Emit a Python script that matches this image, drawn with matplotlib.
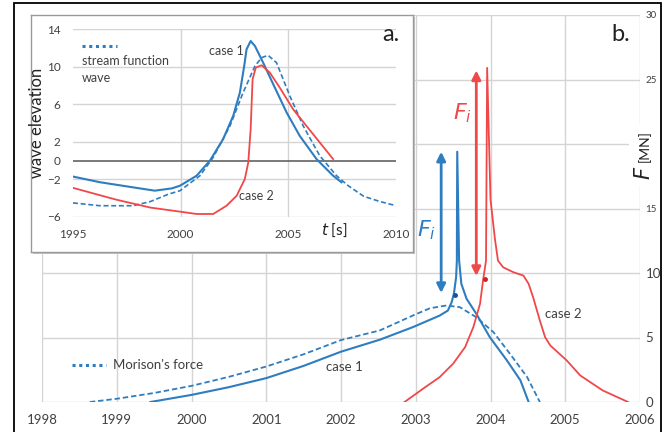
import numpy as np
import matplotlib.pyplot as plt
from matplotlib.patches import Rectangle

plt.rcParams['font.family'] = ['Lato', 'DejaVu Sans']

BLUE = '#2E7DC0'
RED = '#F04848'
GRID = '#d4d4d4'
TXT = '#404040'

# %% DATA - main panel (b.), force in MN
c1_t = [1999.45, 2000.0, 2000.5, 2001.0, 2001.5, 2002.0, 2002.52, 2002.96, 2003.32, 2003.43,
        2003.48, 2003.51, 2003.54, 2003.55, 2003.555, 2003.58, 2003.61, 2003.68, 2003.81, 2003.99,
        2004.22, 2004.40, 2004.51]
c1_f = [0.0, 0.55, 1.15, 1.85, 2.8, 3.9, 4.83, 5.8, 6.7, 7.09,
        7.73, 8.38, 9.67, 10.96, 19.4, 10.96, 9.16, 8.0, 6.84, 5.03,
        3.22, 1.68, 0.0]

mor_t = [1998.64, 1999.0, 1999.5, 2000.0, 2000.5, 2001.0, 2001.5, 2002.0, 2002.52, 2002.96,
         2003.19, 2003.41, 2003.59, 2003.81, 2004.04, 2004.26, 2004.49, 2004.66]
mor_f = [0.0, 0.25, 0.7, 1.25, 1.95, 2.75, 3.7, 4.8, 5.55, 6.7,
         7.27, 7.48, 7.35, 6.57, 5.41, 3.74, 1.93, 0.0]

c2_t = [2002.85, 2003.1, 2003.32, 2003.5, 2003.66, 2003.77, 2003.86, 2003.9, 2003.94, 2003.955,
        2004.0, 2004.06, 2004.1, 2004.17, 2004.31, 2004.44, 2004.51, 2004.57, 2004.66, 2004.73,
        2004.8, 2005.02, 2005.2, 2005.5, 2005.84]
c2_f = [0.0, 1.04, 1.93, 2.97, 4.25, 5.8, 7.61, 9.41, 10.96, 25.9,
        15.7, 12.6, 10.96, 10.44, 10.05, 9.8, 9.16, 8.12, 6.32, 5.03,
        4.38, 3.22, 2.06, 0.9, 0.0]

# small markers on the curves
dot_t = [2003.52, 2003.93]
dot_f = [8.3, 9.54]

# impulse force arrows (x, bottom, top)
fi_blue = (2003.34, 8.45, 19.4)
fi_red = (2003.81, 9.77, 25.7)

main_xticks = [1998, 1999, 2000, 2001, 2002, 2003, 2004, 2005, 2006]
main_yticks = [0, 5, 10, 15, 20, 25, 30]
main_ylabels = ['0', '5', '10', '15', '', '25', '30']

# %% DATA - inset (a.), wave elevation
w1_t = [1995.0, 1996.25, 1997.8, 1998.8, 1999.6, 1999.97, 2000.74, 2001.36, 2001.97, 2002.44,
        2002.75, 2002.95, 2003.06, 2003.25, 2003.45, 2003.83, 2004.3, 2004.92, 2005.53, 2006.31,
        2007.08, 2007.47]
w1_v = [-1.7, -2.3, -2.85, -3.2, -2.95, -2.67, -1.61, 0.0, 2.28, 4.76,
        7.24, 10.06, 11.84, 12.72, 12.19, 10.42, 8.12, 5.12, 2.63, 0.16,
        -1.61, -2.31]

sf_t = [1995.0, 1996.25, 1997.8, 1998.6, 1999.4, 1999.97, 2000.9, 2001.51, 2002.29, 2002.9,
        2003.45, 2003.76, 2004.06, 2004.45, 2005.07, 2005.69, 2006.46, 2007.24, 2007.78, 2008.5,
        2009.25, 2010.0]
sf_v = [-4.5, -4.8, -4.8, -4.35, -3.6, -3.2, -1.6, 0.34, 3.69, 7.24,
        10.06, 10.95, 11.2, 10.42, 6.88, 3.69, 0.51, -1.61, -2.67, -3.8,
        -4.35, -4.8]

w2_t = [1995.0, 1997.0, 1998.6, 1999.97, 2000.74, 2001.51, 2002.13, 2002.6, 2002.98, 2003.14,
        2003.25, 2003.34, 2003.49, 2003.76, 2004.14, 2004.6, 2005.22, 2005.84, 2006.46, 2007.08]
w2_v = [-2.9, -4.15, -5.0, -5.43, -5.68, -5.68, -4.8, -3.74, -1.96, -0.19,
        3.34, 8.65, 9.9, 10.14, 9.36, 7.77, 5.47, 3.69, 1.93, 0.16]

inset_xticks = [1995, 2000, 2005, 2010]
inset_yticks = [-6, -2, 0, 2, 6, 10, 14]
inset_ygrid = [-6, -2, 2, 6, 10, 14]

# %% FIGURE
W, H = 667, 432
fig = plt.figure(figsize=(W / 100, H / 100), dpi=100)


def fx(px):
    return px / W


def fy(py):
    return 1 - py / H


# outer black frame
fig.patches.append(Rectangle((fx(14), -0.02), fx(661) - fx(14), fy(3) + 0.02,
                             transform=fig.transFigure, fill=False, ec='black', lw=1.3))

# %% MAIN AXES
ax = fig.add_axes([fx(42), fy(402), fx(640) - fx(42), fy(15) - fy(402)])
ax.set_xlim(1998, 2006)
ax.set_ylim(0, 30)
for s in ax.spines.values():
    s.set_visible(False)
ax.set_xticks(main_xticks)
ax.set_xticklabels([str(t) for t in main_xticks])
ax.yaxis.tick_right()
ax.set_yticks(main_yticks)
ax.set_yticklabels(main_ylabels)
for lab, v in zip(ax.get_yticklabels(), main_yticks):
    lab.set_fontsize(9.5 if v <= 10 else 7)
ax.tick_params(axis='x', length=0, pad=9, labelsize=9.5, labelcolor=TXT)
ax.tick_params(axis='y', length=0, pad=4, labelcolor=TXT)
ax.grid(True, color=GRID, lw=1)
ax.set_axisbelow(True)

ax.plot(mor_t, mor_f, color=BLUE, lw=1.3, ls=(0, (3, 1.6)))
ax.plot(c1_t, c1_f, color=BLUE, lw=1.5)
ax.plot(c2_t, c2_f, color=RED, lw=1.3)
ax.plot(dot_t[:1], dot_f[:1], 'o', ms=2.5, color='#1f4f9a')
ax.plot(dot_t[1:], dot_f[1:], 'o', ms=2.5, color='#d02020')

for (x, lo, hi), col in [(fi_blue, BLUE), (fi_red, RED)]:
    ax.annotate('', xy=(x, hi), xytext=(x, lo),
                arrowprops=dict(arrowstyle='<|-|>', color=col, lw=2,
                                mutation_scale=13, shrinkA=0, shrinkB=0))

ax.text(2003.15, 13.3, r'$F_i$', color=BLUE, fontsize=16, ha='center', va='center')
ax.text(2003.63, 22.4, r'$F_i$', color=RED, fontsize=16, ha='center', va='center')
ax.text(2002.05, 2.75, 'case 1', color=TXT, fontsize=9.5, ha='center', va='center')
ax.text(2004.97, 6.8, 'case 2', color=TXT, fontsize=9.5, ha='center', va='center')

# legend sample
ax.plot([1998.4, 1998.85], [2.9, 2.9], color=BLUE, lw=2.2, ls=(0, (1, 1.2)))
ax.text(1998.95, 2.9, "Morison's force", color=TXT, fontsize=9.5, va='center')

ax.text(2005.87, 28.5, 'b.', fontsize=17, color='#222222', ha='right', va='center')

# F [MN] label with white background hiding the grid
fig.patches.append(Rectangle((fx(629), fy(186)), fx(659) - fx(629), fy(124) - fy(186),
                             transform=fig.transFigure, fc='white', ec='none', zorder=5))
fig.text(fx(644), fy(173), r'$F$', fontsize=15, rotation=90, ha='center', va='center',
         color='#222222', zorder=6)
fig.text(fx(644), fy(146), '[MN]', fontsize=10, rotation=90, ha='center', va='center',
         color='#222222', zorder=6)

# %% INSET BOX
shadow = fig.add_axes([fx(33), fy(254), fx(413) - fx(31), fy(15) - fy(252)])
shadow.set_facecolor('#c4c4c4')
shadow.set_xticks([])
shadow.set_yticks([])
for s in shadow.spines.values():
    s.set_visible(False)
box = fig.add_axes([fx(31), fy(252), fx(413) - fx(31), fy(15) - fy(252)])
box.set_facecolor('white')
box.set_xticks([])
box.set_yticks([])
for s in box.spines.values():
    s.set_color('#9a9a9a')
    s.set_linewidth(1)

# %% INSET AXES
ia = fig.add_axes([fx(73), fy(217), fx(396) - fx(73), fy(29) - fy(217)])
ia.set_facecolor('none')
ia.set_xlim(1995, 2010)
ia.set_ylim(-6, 14)
for s in ia.spines.values():
    s.set_visible(False)
ia.set_xticks(inset_xticks)
ia.set_yticks(inset_yticks)
ia.tick_params(length=0, labelsize=8.5, labelcolor=TXT)
ia.tick_params(axis='x', pad=9)
ia.tick_params(axis='y', pad=9)
ia.grid(False)
for v in inset_ygrid:
    ia.axhline(v, color=GRID, lw=1, zorder=0)
for t in inset_xticks[1:-1]:
    ia.axvline(t, color=GRID, lw=1, zorder=0)
ia.axhline(0, color='#555555', lw=1.1, zorder=1)

ia.plot(sf_t, sf_v, color=BLUE, lw=1.2, ls=(0, (3, 1.6)), zorder=3)
ia.plot(w1_t, w1_v, color=BLUE, lw=1.5, zorder=3)
ia.plot(w2_t, w2_v, color=RED, lw=1.3, zorder=3)

ia.plot([1995.42, 1997.05], [12.2, 12.2], color=BLUE, lw=2.2, ls=(0, (1, 1.2)))
ia.text(1995.42, 10.6, 'stream function', fontsize=9, color=TXT, va='center')
ia.text(1995.42, 8.8, 'wave', fontsize=9, color=TXT, va='center')
ia.text(2002.1, 11.7, 'case 1', fontsize=9, color=TXT, ha='center', va='center')
ia.text(2003.5, -3.8, 'case 2', fontsize=9, color=TXT, ha='center', va='center')
ia.text(2009.75, 13.4, 'a.', fontsize=17, color='#222222', ha='center', va='center')
ia.text(0.81, -0.07, r'$t$ [s]', transform=ia.transAxes, fontsize=11, color='#222222',
        ha='center', va='center')
ia.set_ylabel('wave elevation', fontsize=12, color='#222222', labelpad=1)

fig.savefig('out.png', dpi=100)
